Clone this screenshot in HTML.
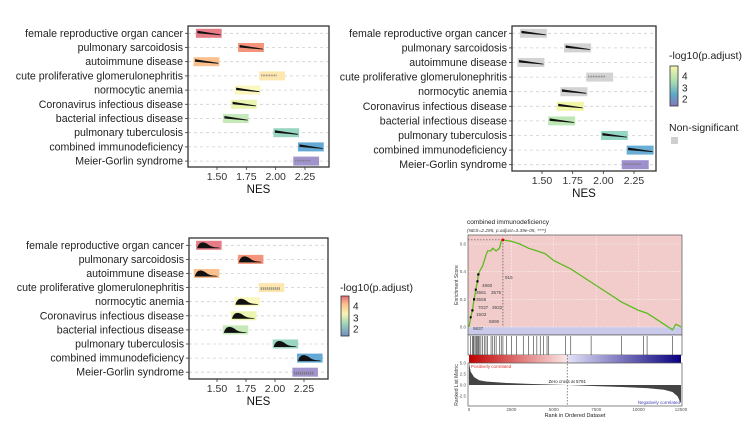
<!DOCTYPE html>
<html><head><meta charset="utf-8"><style>
body{margin:0;background:#fff;width:750px;height:436px;overflow:hidden}
svg{display:block;font-family:"Liberation Sans","DejaVu Sans",sans-serif}
</style></head><body>
<svg id="s" width="750" height="436" viewBox="0 0 750 436"></svg>
<script>
const categories=["female reproductive organ cancer","pulmonary sarcoidosis","autoimmune disease","cute proliferative glomerulonephritis","normocytic anemia","Coronavirus infectious disease","bacterial infectious disease","pulmonary tuberculosis","combined immunodeficiency","Meier-Gorlin syndrome"];
const nesLow=[1.32,1.68,1.30,1.86,1.65,1.62,1.55,1.98,2.19,2.15];
const nesHigh=[1.54,1.90,1.52,2.08,1.87,1.84,1.77,2.20,2.41,2.37];
const padj=[4.6,4.2,3.9,3.5,3.2,3.0,2.7,2.3,1.9,1.6];
const nesTicks=[1.5,1.75,2.0,2.25];
const nesTickLabels=["1.50","1.75","2.00","2.25"];
const colorsA=["#e57c86","#f5947a","#fbc08e","#fde7ae","#fbf8bf","#ecf5b0","#c5e9b8","#98d6c1","#64a8d4","#a194cc"];
const colorsB=["#d3d3d3","#d3d3d3","#d3d3d3","#d3d3d3","#d3d3d3","#f1f5a6","#bde8b6","#93d6c4","#6aaed6","#9d90cd"];
const esRank=[0,100,200,300,400,500,550,700,800,900,1000,1100,1300,1400,1600,1800,1900,2000,2500,3000,3500,4000,4500,5000,6000,7000,8000,9000,10000,10500,11000,12000,12200,12500];
const esVal=[0,0.07,0.12,0.2,0.27,0.33,0.38,0.42,0.44,0.48,0.52,0.55,0.55,0.57,0.55,0.57,0.62,0.63,0.62,0.6,0.57,0.55,0.53,0.48,0.42,0.34,0.26,0.18,0.12,0.10,0.06,-0.02,0.02,0.0];
const hitRanks=[100,200,250,300,400,450,500,550,600,700,800,900,1000,1100,1300,1400,1500,1600,1800,1900,2000,2200,2500,2800,3200,3500,3800,4000,4200,4400,4600,4700,5700,6000,7200,9000,10300,10500,12000];
const metricRank=[0,100,300,600,1000,2000,3500,5791,7500,9000,10500,11500,12000,12300,12500];
const metricVal=[5.0,3.0,1.8,1.1,0.8,0.5,0.25,0,-0.25,-0.45,-0.7,-1.1,-1.6,-2.6,-4.2];
const esLabels=["915","4860","3561","3575","3559","7037","3932","1503","6890","9837"];

const NS="http://www.w3.org/2000/svg";
const S=document.getElementById('s');
function mk(t,a,p){const e=document.createElementNS(NS,t);for(const k in a)e.setAttribute(k,a[k]);(p||S).appendChild(e);return e;}

function ridge(cfg){
  const g=mk('g',{});
  
  
  const xs=v=>cfg.t150+(v-1.5)*(cfg.t225-cfg.t150)/0.75;
  const ys=i=>cfg.r0+i*cfg.step;
  categories.forEach((c,i)=>{
    const y=ys(i);
    const gl=mk('line',{x1:cfg.x0,x2:cfg.x1,y1:y,y2:y,stroke:'#cfcfcf','stroke-width':0.8,'stroke-dasharray':'3,3'},g);
    
    
    const t=mk('text',{x:cfg.x0-5,y:y+3.5,'text-anchor':'end','font-size':10.6,fill:'#222'},g);t.textContent=c;
    
    
    mk('line',{x1:cfg.x0-3,x2:cfg.x0,y1:y,y2:y,stroke:'#333','stroke-width':0.8},g);
    const a=xs(nesLow[i]),b=xs(nesHigh[i]);
    const r=mk('rect',{x:a,y:y-4.5,width:b-a,height:9,fill:cfg.colors[i]},g);
    
    
    const w=b-a;
    if(cfg.dens){
      if(i===3||i===9){mk('line',{x1:a+2,x2:b-4,y1:y+1,y2:y+1,stroke:'#666','stroke-width':3,'stroke-dasharray':'0.8,1.2'},g);}
      else{mk('path',{d:`M${a+1},${y+3} C${a+w*0.12},${y-4.5} ${a+w*0.3},${y-4.5} ${a+w*0.55},${y+0.5} C${a+w*0.7},${y+2.5} ${a+w*0.85},${y+2} ${b-2},${y+2.5} L${b-2},${y+3} Z`,fill:'#111'},g);}
    }else{
      if(i===3||i===9){mk('line',{x1:a+2,x2:b-8,y1:y-0.5,y2:y-0.5,stroke:'#777','stroke-width':1.6,'stroke-dasharray':'0.8,0.8'},g);}
      else{mk('path',{d:`M${a+1.5},${y-2.5} L${a+1.5},${y} L${b-1},${y+2} L${b-1},${y+1.2} Z`,fill:'#111'},g);}
    }
  });
  const fr=mk('rect',{x:cfg.x0,y:cfg.y0,width:cfg.x1-cfg.x0,height:cfg.y1-cfg.y0,fill:'none',stroke:'#333','stroke-width':1.3},g);
  
  
  nesTicks.forEach((v,k)=>{
    const x=xs(v);
    mk('line',{x1:x,x2:x,y1:cfg.y1,y2:cfg.y1+3,stroke:'#333','stroke-width':0.8},g);
    const t=mk('text',{x:x,y:cfg.y1+13,'text-anchor':'middle','font-size':10.5,fill:'#333'},g);t.textContent=nesTickLabels[k];
    
    
  });
  const xt=mk('text',{x:(cfg.x0+cfg.x1)/2,y:cfg.y1+26,'text-anchor':'middle','font-size':11.5,fill:'#111'},g);xt.textContent='NES';
  
  
}
ridge({name:'ridge-plot-a',x0:188,x1:329,y0:26,y1:167,t150:217,t225:305,r0:33.3,step:14.2,colors:colorsA,dens:false});
ridge({name:'ridge-plot-b',x0:512,x1:656,y0:26,y1:171,t150:542,t225:634,r0:33.3,step:14.6,colors:colorsB,dens:false});
ridge({name:'ridge-plot-c',x0:189,x1:328,y0:238,y1:379,t150:217,t225:304,r0:245.3,step:14.1,colors:colorsA,dens:true});

const defs=mk('defs',{});
const lg1=mk('linearGradient',{id:'g1',x1:0,y1:1,x2:0,y2:0},defs);
[["0","#8079b8"],["0.3","#5ea9c9"],["0.6","#a6dcb3"],["1","#f9f7a8"]].forEach(s=>mk('stop',{offset:s[0],'stop-color':s[1]},lg1));
const lg2=mk('linearGradient',{id:'g2',x1:0,y1:1,x2:0,y2:0},defs);
[["0","#6f8fc4"],["0.3","#9ed3b8"],["0.55","#f7f5b5"],["0.8","#fbbf8a"],["1","#e56b76"]].forEach(s=>mk('stop',{offset:s[0],'stop-color':s[1]},lg2));
function legend(name,x,ty,cy,grad){
  const g=mk('g',{});
  
  
  const t=mk('text',{x:x,y:ty,'font-size':10.5,fill:'#222'},g);t.textContent='-log10(p.adjust)';
  mk('rect',{x:x+1,y:cy,width:8,height:40,fill:'url(#'+grad+')',stroke:'#333','stroke-width':0.8},g);
  [["4",cy+10],["3",cy+22],["2",cy+33]].forEach(l=>{const tt=mk('text',{x:x+13,y:l[1]+3.5,'font-size':10,fill:'#222'},g);tt.textContent=l[0];});
}
legend('color-legend-b',669,59,66,'g1');
legend('color-legend-c',340,291,296,'g2');
const ns=mk('text',{x:669,y:131,'font-size':10.5,fill:'#222'});ns.textContent='Non-significant';


mk('rect',{x:671,y:137,width:7,height:7,fill:'#cfcfcf'});

// GSEA
const gg=mk('g',{});


const rx=r=>469+r*(681-469)/12500;
const ey=v=>327-v*138.3;
const my=v=>385-v*4.4;
let t=mk('text',{x:467,y:224,'font-size':6.5,fill:'#222'},gg);t.textContent='combined immunodeficiency';
t=mk('text',{x:467,y:232,'font-size':4.8,fill:'#333','font-style':'italic'},gg);t.textContent='(NES=2.295, p.adjust=3.39e-05, ****)';
mk('rect',{x:468,y:235,width:214,height:92,fill:'#f2cbcb'},gg);
mk('rect',{x:468,y:327,width:214,height:8,fill:'#c9c9ea'},gg);
for(let r=2500;r<12500;r+=2500)mk('line',{x1:rx(r),x2:rx(r),y1:235,y2:327,stroke:'#fff','stroke-width':0.4,'stroke-dasharray':'2,1'},gg);
[0,0.2,0.4,0.6].forEach(v=>{mk('line',{x1:468,x2:682,y1:ey(v),y2:ey(v),stroke:'#fff','stroke-width':0.4,'stroke-dasharray':'2,1'},gg);
 const tt=mk('text',{x:466,y:ey(v)+1.5,'text-anchor':'end','font-size':4.5,fill:'#555'},gg);tt.textContent=v.toFixed(1);});
const esT=mk('text',{x:458,y:285,'font-size':5,fill:'#333',transform:'rotate(-90 458 285)','text-anchor':'middle'},gg);esT.textContent='Enrichment Score';
mk('line',{x1:468,x2:rx(2000),y1:ey(0.63),y2:ey(0.63),stroke:'#333','stroke-width':0.6,'stroke-dasharray':'1.5,1.5'},gg);
mk('line',{x1:rx(2000),x2:rx(2000),y1:ey(0.63),y2:327,stroke:'#333','stroke-width':0.6,'stroke-dasharray':'1.5,1.5'},gg);
const esPath=mk('path',{d:esRank.map((r,i)=>(i?'L':'M')+rx(r).toFixed(1)+','+ey(esVal[i]).toFixed(1)).join(''),fill:'none',stroke:'#5dbb1e','stroke-width':1.3},gg);


mk('circle',{cx:rx(2000),cy:ey(0.63),r:1.4,fill:'#d00'},gg);
// labelled core genes (leftmost hits)
const labPos=[[505,279],[482,287],[476,294],[491,294],[476,301],[478,309],[492,309],[476,316],[489,323],[473,330]];
esLabels.forEach((l,i)=>{
 const ri=Math.max(1,6-Math.floor(i*0.6));
 const px=rx(esRank[ri]), py=ey(esVal[ri]);
 mk('rect',{x:px-1,y:py-1,width:2,height:2,fill:'#000'},gg);
 const tt=mk('text',{x:labPos[i][0],y:labPos[i][1],'font-size':4.6,fill:'#444'},gg);tt.textContent=l;});
mk('rect',{x:468,y:235,width:214,height:100,fill:'none',stroke:'#555','stroke-width':0.7},gg);
mk('rect',{x:468,y:335,width:214,height:20,fill:'#fff',stroke:'#555','stroke-width':0.7},gg);
hitRanks.forEach(r=>{const l=mk('line',{x1:rx(r),x2:rx(r),y1:336,y2:355,stroke:'#333','stroke-width':0.6},gg);
 
 });
const lg3=mk('linearGradient',{id:'g3',x1:0,y1:0,x2:1,y2:0},defs);
[["0","#c00000"],["0.46","#fbe6e6"],["0.47","#e0e0f6"],["1","#0a007e"]].forEach(s=>mk('stop',{offset:s[0],'stop-color':s[1]},lg3));
mk('rect',{x:469,y:355,width:212,height:8,fill:'url(#g3)'},gg);
mk('rect',{x:468,y:363,width:214,height:43,fill:'#fff',stroke:'#555','stroke-width':0.7},gg);
const mp=metricRank.map((r,i)=>'L'+rx(r).toFixed(1)+','+my(metricVal[i]).toFixed(1)).join('');
const mpath=mk('path',{d:'M'+rx(0)+','+my(0)+mp+'L'+rx(12500)+','+my(0)+'Z',fill:'#444'},gg);


[5,2.5,0,-2.5].forEach(v=>{const tt=mk('text',{x:466,y:my(v)+1.5,'text-anchor':'end','font-size':4.5,fill:'#555'},gg);tt.textContent=v.toFixed(1);});
mk('line',{x1:rx(5791),x2:rx(5791),y1:355,y2:406,stroke:'#333','stroke-width':0.6,'stroke-dasharray':'1.5,1.5'},gg);
t=mk('text',{x:rx(5791),y:383,'text-anchor':'middle','font-size':4.5,fill:'#222'},gg);t.textContent='Zero cross at 5791';
t=mk('text',{x:471,y:368,'font-size':4.5,fill:'#d33'},gg);t.textContent='Positively correlated';
t=mk('text',{x:680,y:404,'text-anchor':'end','font-size':4.5,fill:'#44b'},gg);t.textContent='Negatively correlated';
t=mk('text',{x:458,y:385,'font-size':5,fill:'#333',transform:'rotate(-90 458 385)','text-anchor':'middle'},gg);t.textContent='Ranked List Metric';
[0,2500,5000,7500,10000,12500].forEach(r=>{const tt=mk('text',{x:rx(r),y:411,'text-anchor':'middle','font-size':4.5,fill:'#555'},gg);tt.textContent=r;});
t=mk('text',{x:575,y:417,'text-anchor':'middle','font-size':5.5,fill:'#222'},gg);t.textContent='Rank in Ordered Dataset';
</script>
</body></html>
